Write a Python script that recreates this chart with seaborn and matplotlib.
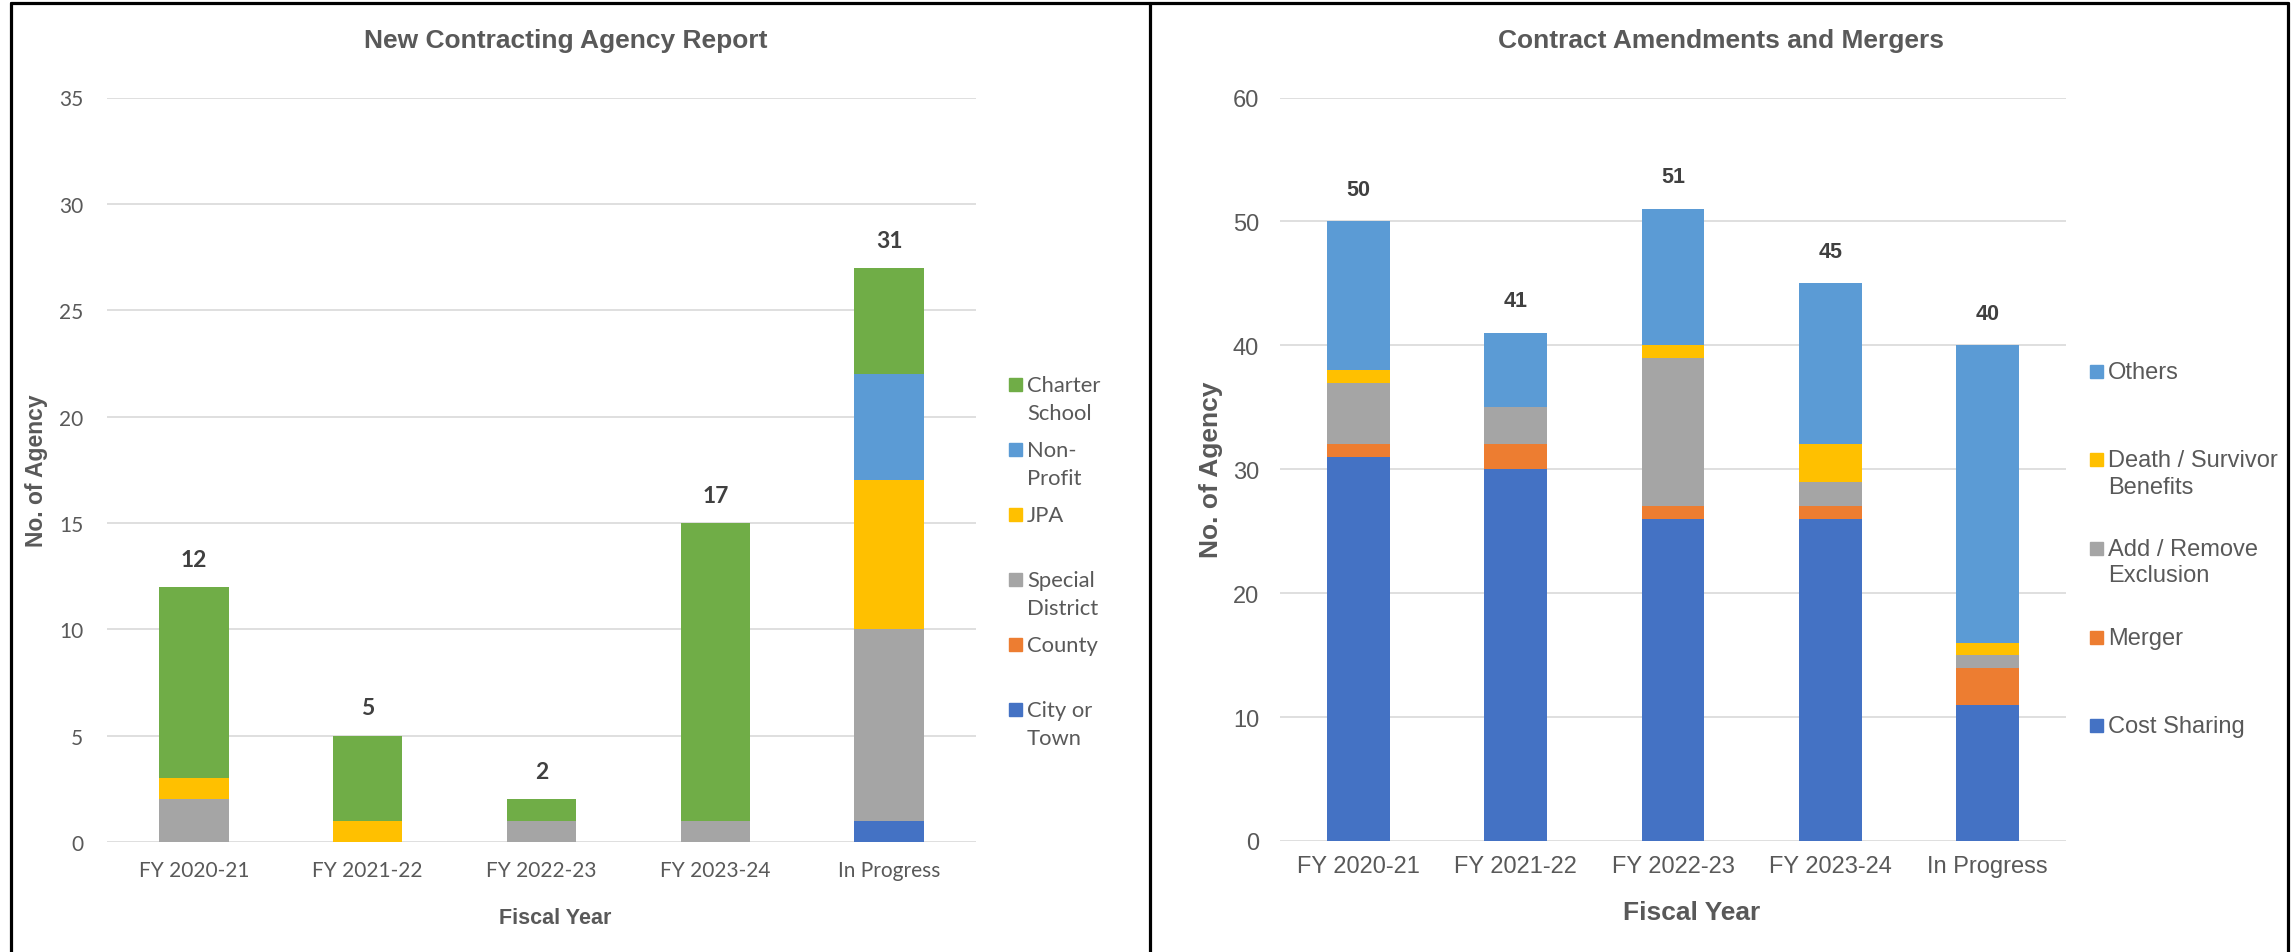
import pandas as pd
import numpy as np
import seaborn as sns
import matplotlib.pyplot as plt
from matplotlib.lines import Line2D
from matplotlib.patches import Rectangle


YEARS = ['FY 2020-21', 'FY 2021-22', 'FY 2022-23', 'FY 2023-24', 'In Progress']

# new contracting agencies, stack order bottom -> top
NEW_TYPES = ['City or\nTown', 'County', 'Special\nDistrict', 'JPA', 'Non-\nProfit', 'Charter\nSchool']
city_town = [0, 0, 0, 0, 1]
county = [0, 0, 0, 0, 0]
special_district = [2, 0, 1, 1, 9]
jpa = [1, 1, 0, 0, 7]
non_profit = [0, 0, 0, 0, 5]
charter_school = [9, 4, 1, 14, 5]
new_labels = [12, 5, 2, 17, 31]

# amendments and mergers, stack order bottom -> top
AMEND_TYPES = ['Cost Sharing', 'Merger', 'Add / Remove\nExclusion', 'Death / Survivor\nBenefits', 'Others']
cost_sharing = [31, 30, 26, 26, 11]
merger = [1, 2, 1, 1, 3]
add_remove = [5, 3, 12, 2, 1]
death_survivor = [1, 0, 1, 3, 1]
others = [12, 6, 11, 13, 24]
amend_labels = [50, 41, 51, 45, 40]

NEW_COLORS = ['#4472C4', '#ED7D31', '#A5A5A5', '#FFC000', '#5B9BD5', '#70AD47']
AMEND_COLORS = ['#4472C4', '#ED7D31', '#A5A5A5', '#FFC000', '#5B9BD5']

GREY = '#595959'
W, H = 2295, 953

sns.set_style("white")
plt.rcParams['font.family'] = ['Liberation Sans', 'DejaVu Sans']


def stacked(ax, layers, names, colors):
    df = pd.DataFrame(dict(zip(names, layers)), index=YEARS)
    cum = df.cumsum(axis=1)
    # draw tallest cumulative first so lower layers sit on top
    for name, col in reversed(list(zip(names, colors))):
        sns.barplot(x=list(cum.index), y=cum[name].values, color=col,
                    width=0.4, saturation=1, linewidth=0, errorbar=None, ax=ax)
    return cum.iloc[:, -1].values


def style_axis(ax, ymax, step, tick_size, tick_font, pad_y, pad_x):
    ax.set_ylim(0, ymax)
    ax.set_xlim(-0.5, 4.5)
    ax.set_yticks(range(0, ymax + 1, step))
    ax.yaxis.grid(True, color='#D9D9D9', lw=1.2)
    ax.xaxis.grid(False)
    ax.set_axisbelow(True)
    sns.despine(ax=ax, left=True, bottom=True)
    ax.tick_params(axis='y', length=0, pad=pad_y, labelsize=tick_size, labelcolor=GREY)
    ax.tick_params(axis='x', length=0, pad=pad_x, labelsize=tick_size, labelcolor=GREY)
    for t in ax.get_xticklabels() + ax.get_yticklabels():
        t.set_fontfamily(tick_font)


def legend(fig, x_px, text_px, y0_px, step_px, names, colors, size, font, lsp):
    for k, (name, col) in enumerate(reversed(list(zip(names, colors)))):
        yc = y0_px + k * step_px
        fig.patches.append(Rectangle((x_px / W, 1 - (yc + 6.5) / H), 13 / W, 13 / H,
                                     color=col, transform=fig.transFigure))
        fig.text(text_px / W, 1 - (yc - size * 0.85 + 4) / H, name, fontsize=size,
                 family=font, color=GREY, va='top', ha='left', linespacing=lsp)


fig = plt.figure(figsize=(W / 100, H / 100), dpi=100)

# ---- left: new contracting agencies
ax1 = fig.add_axes([107 / W, 1 - 843 / H, 869 / W, 744.5 / H])
tops = stacked(ax1, [city_town, county, special_district, jpa, non_profit, charter_school],
               NEW_TYPES, NEW_COLORS)
style_axis(ax1, 35, 5, 15, 'Lato', 17, 13)
for i, (top, lab) in enumerate(zip(tops, new_labels)):
    ax1.text(i, top + 1.3, str(lab), ha='center', va='center', fontsize=16.5,
             fontweight='bold', color='#404040', family='Lato')
ax1.set_xlabel('Fiscal Year', fontsize=15.5, fontweight='bold', color=GREY)
ax1.set_ylabel('No. of Agency', fontsize=16.5, fontweight='bold', color=GREY)
ax1.xaxis.label.set_va('center')
ax1.yaxis.label.set_va('center')
ax1.xaxis.set_label_coords(0.5155, -0.102)
ax1.yaxis.set_label_coords(-0.0806, 0.5)
fig.text(566 / W, 1 - 41 / H, 'New Contracting Agency Report', fontsize=19,
         fontweight='bold', color=GREY, ha='center', va='center')
legend(fig, 1009, 1027, 385, 65, NEW_TYPES, NEW_COLORS, 15.8, 'Lato', 1.5)

# ---- right: amendments and mergers
ax2 = fig.add_axes([1280 / W, 1 - 842 / H, 786 / W, 743.5 / H])
tops = stacked(ax2, [cost_sharing, merger, add_remove, death_survivor, others],
               AMEND_TYPES, AMEND_COLORS)
style_axis(ax2, 60, 10, 17, 'Liberation Sans', 15, 10)
for i, (top, lab) in enumerate(zip(tops, amend_labels)):
    ax2.text(i, top + 2.6, str(lab), ha='center', va='center', fontsize=15.5,
             fontweight='bold', color='#404040')
ax2.set_xlabel('Fiscal Year', fontsize=19, fontweight='bold', color=GREY)
ax2.set_ylabel('No. of Agency', fontsize=19, fontweight='bold', color=GREY)
ax2.xaxis.label.set_va('center')
ax2.yaxis.label.set_va('center')
ax2.xaxis.set_label_coords(0.524, -0.0955)
ax2.yaxis.set_label_coords(-0.0878, 0.5)
fig.text(1721 / W, 1 - 41 / H, 'Contract Amendments and Mergers', fontsize=19,
         fontweight='bold', color=GREY, ha='center', va='center')
legend(fig, 2090, 2108, 372, 88.7, AMEND_TYPES, AMEND_COLORS, 17, 'Liberation Sans', 1.25)

# panel frames
for x in [11, 1150, 2288]:
    fig.add_artist(Line2D([x / W, x / W], [0, 1 - 4 / H], color='black', lw=2.3,
                          transform=fig.transFigure))
fig.add_artist(Line2D([11 / W, 2288 / W], [1 - 4 / H, 1 - 4 / H], color='black', lw=2.3,
                      transform=fig.transFigure))

fig.savefig('out.png', dpi=100)
